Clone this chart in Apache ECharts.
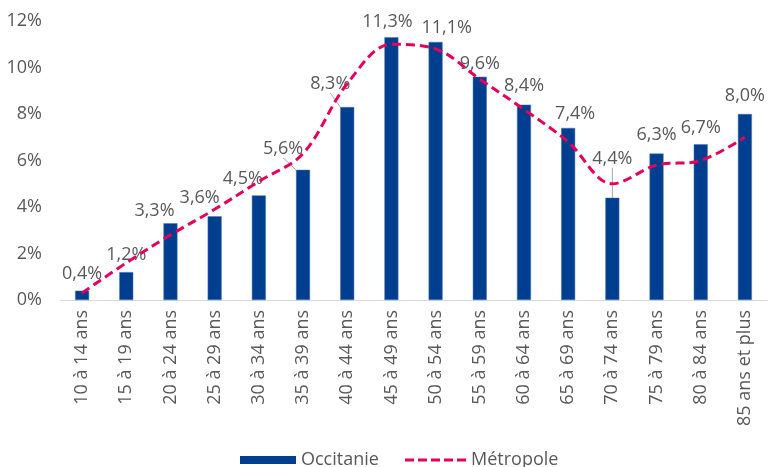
<!DOCTYPE html>
<html><head><meta charset="utf-8">
<script src="https://cdn.jsdelivr.net/npm/echarts@6/dist/echarts.min.js"></script>
<style>html,body{margin:0;padding:0;background:#fff}#c{width:768px;height:467px}</style>
</head><body><div id="c"></div>
<script>
var categories = ["10 à 14 ans","15 à 19 ans","20 à 24 ans","25 à 29 ans","30 à 34 ans","35 à 39 ans","40 à 44 ans","45 à 49 ans","50 à 54 ans","55 à 59 ans","60 à 64 ans","65 à 69 ans","70 à 74 ans","75 à 79 ans","80 à 84 ans","85 ans et plus"];
var occitanie = [0.4,1.2,3.3,3.6,4.5,5.6,8.3,11.3,11.1,9.6,8.4,7.4,4.4,6.3,6.7,8.0];
var metropole = [0.3,1.6,2.8,3.9,5.1,6.3,9.3,11.0,10.8,9.5,8.2,6.8,5.0,5.8,6.0,7.0];
var yTicks = [0,2,4,6,8,10,12];

// label placement tweaks (layout only)
var labelShift = {2:[-16,5],3:[-15,-1],4:[-16,0],5:[-20,-4],6:[-17,-6],7:[-4,2],8:[11,3],9:[0,4],10:[0,-2],11:[7,3],12:[0,-22],13:[0,-2],14:[0,1],15:[0,-1]};
var leaderIdx = {5:1,6:1,12:1};

var FONT = 'Open Sans';
var FS = 18;
var chart = echarts.init(document.getElementById('c'));
var barData = occitanie.map(function(v,i){
  var item = {value:v};
  if (leaderIdx[i]) item.labelLine = {show:true,lineStyle:{color:'#A6A6A6',width:1}};
  return item;
});
chart.setOption({
  animation:false,
  textStyle:{fontFamily:FONT},
  grid:{left:60,right:1,top:21,bottom:167},
  legend:[{
    top:451, left:240, padding:0, itemWidth:56, itemHeight:8,
    itemStyle:{borderWidth:0},
    textStyle:{fontFamily:FONT,fontSize:FS,color:'#595959'},
    data:[{name:'Occitanie',icon:'rect'}]
  },{
    top:451, left:405, padding:0, itemWidth:61, itemHeight:3,
    textStyle:{fontFamily:FONT,fontSize:FS,color:'#595959'},
    data:[{name:'Métropole',icon:'path://M0,0h9v3h-9zM13,0h9v3h-9zM26,0h9v3h-9zM39,0h9v3h-9zM52,0h9v3h-9z'}]
  }],
  xAxis:{
    type:'category', data:categories, boundaryGap:true,
    axisTick:{show:false},
    axisLine:{lineStyle:{color:'#D9D9D9',width:1}},
    axisLabel:{rotate:90,margin:10,color:'#595959',fontSize:FS,fontFamily:FONT,interval:0}
  },
  yAxis:{
    type:'value', min:yTicks[0], max:yTicks[yTicks.length-1], interval:2,
    splitLine:{show:false}, axisLine:{show:false}, axisTick:{show:false},
    axisLabel:{formatter:'{value}%',margin:18,color:'#595959',fontSize:FS,fontFamily:FONT}
  },
  series:[
    {
      name:'Occitanie', type:'bar', data:barData, barWidth:14, z:2,
      itemStyle:{color:'#003F8F',borderColor:'#4A73B5',borderWidth:0.5},
      label:{show:true,position:'top',distance:8,color:'#595959',fontSize:FS,fontFamily:FONT,
        formatter:function(p){return p.value.toFixed(1).replace('.',',')+'%';}},
      labelLine:{show:false,lineStyle:{color:'#A6A6A6',width:1}},
      labelLayout:function(p){
        var s = labelShift[p.dataIndex];
        if (s) return {dx:s[0],dy:s[1]};
        return {};
      }
    },
    {
      name:'Métropole', type:'line', data:metropole, smooth:0.35, symbol:'none', z:5,
      lineStyle:{color:'#E6005C',width:3,type:[9,5]},
      itemStyle:{color:'#E6005C'}
    }
  ]
});
</script></body></html>
